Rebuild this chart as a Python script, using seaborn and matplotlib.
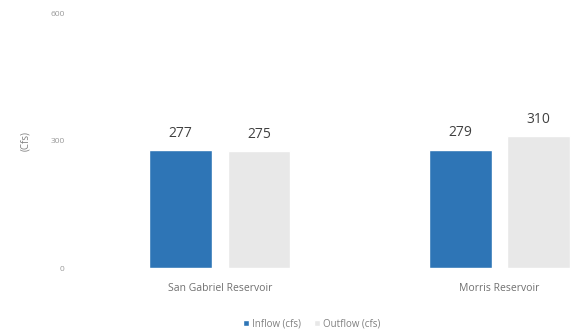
import matplotlib
matplotlib.use("Agg")
import matplotlib.pyplot as plt
import seaborn as sns
import pandas as pd

categories = ["San Gabriel Reservoir", "Morris Reservoir"]
series_names = ["Inflow (cfs)", "Outflow (cfs)"]
inflow = [277, 279]
outflow = [275, 310]
y_ticks = [0, 300, 600]

df = pd.DataFrame({
    "Reservoir": categories * 2,
    "Series": [series_names[0]] * len(categories) + [series_names[1]] * len(categories),
    "Value": inflow + outflow,
})

sns.set_theme(style="white")
plt.rcParams["font.family"] = ["Open Sans", "DejaVu Sans"]

fig = plt.figure(figsize=(5.72, 3.36), dpi=100)
ax = fig.add_axes([0.14, 0.202, 0.86, 0.759])

palette = {series_names[0]: "#2E75B6", series_names[1]: "#E8E8E8"}
sns.barplot(data=df, x="Reservoir", y="Value", hue="Series", palette=palette,
            width=0.56, gap=0.2, ax=ax, legend=True, saturation=1)

for cont in ax.containers:
    ax.bar_label(cont, fmt="%d", padding=7, fontsize=10, color="#404040")

ax.set_ylim(0, 600)
ax.set_yticks(y_ticks)
ax.set_xlim(-0.50, 1.26)
ax.set_xlabel("")
ax.set_ylabel("(Cfs)", fontsize=7, color="#808080", labelpad=14)
ax.tick_params(axis="y", labelsize=6, colors="#999999", length=0, pad=11)
ax.tick_params(axis="x", labelsize=7.5, colors="#707070", length=0, pad=11)
for s in ax.spines.values():
    s.set_visible(False)

handles, labels = ax.get_legend_handles_labels()
ax.get_legend().remove()
fig.legend(handles, labels, loc="center", bbox_to_anchor=(0.545, 0.036), ncol=2,
           frameon=False, fontsize=7, handlelength=0.6, handleheight=0.6,
           handletextpad=0.3, columnspacing=1.4, labelcolor="#808080")

fig.savefig("out.png", dpi=100)
